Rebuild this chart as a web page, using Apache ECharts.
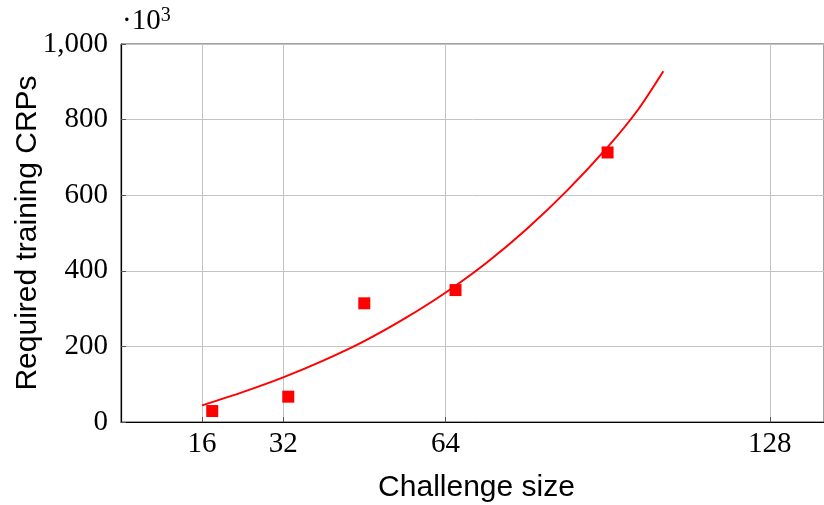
<!DOCTYPE html>
<html>
<head>
<meta charset="utf-8">
<script src="https://cdn.jsdelivr.net/npm/echarts@6/dist/echarts.min.js"></script>
<style>
  html, body { margin: 0; padding: 0; background: #fff; }
  #chart { width: 824px; height: 505px; }
</style>
</head>
<body>
<div id="chart"></div>
<script>
// Measured training-set sizes (in thousands of CRPs) per challenge size
const challengeSizes = [18, 33, 48, 66, 96];
const requiredCRPs = [29, 67, 314, 349, 713];

// Fitted trend curve (thousands of CRPs)
const fitX = [16, 24, 32, 40, 48, 56, 64, 72, 80, 88, 96, 102, 107];
const fitY = [44, 79, 118, 163, 214, 274, 342, 420, 510, 612, 727, 826, 928];

// Axis ticks
const xTicks = [16, 32, 64, 128];
const yMin = 0, yMax = 1000, yStep = 200;

const serif = '"Liberation Serif", "DejaVu Serif", serif';
const sans = '"Liberation Sans", Arial, sans-serif';

const chart = echarts.init(document.getElementById('chart'), null, { renderer: 'canvas' });

chart.setOption({
  animation: false,
  backgroundColor: '#fff',
  grid: {
    left: 121, right: 0, top: 44, bottom: 83,
    outerBoundsMode: 'none',
    containLabel: false,
    show: true, borderColor: '#444', borderWidth: 1
  },
  xAxis: {
    type: 'value',
    min: 0, max: 138.7,
    name: 'Challenge size',
    nameLocation: 'middle',
    nameGap: 51,
    nameMoveOverlap: false,
    nameTextStyle: { fontFamily: sans, fontSize: 30, color: '#000', padding: [0, 0, 0, 8] },
    axisLine: { show: true, lineStyle: { color: '#000', width: 1.2 } },
    axisTick: { show: true, inside: true, length: 5, customValues: xTicks, lineStyle: { color: '#555' } },
    axisLabel: {
      customValues: xTicks, margin: 8,
      fontFamily: serif, fontSize: 29, color: '#000'
    },
    splitLine: { show: true, lineStyle: { color: '#c4c4c4', width: 1 } }
  },
  yAxis: {
    type: 'value',
    min: yMin, max: yMax, interval: yStep,
    name: 'Required training CRPs',
    nameLocation: 'middle',
    nameGap: 78,
    nameMoveOverlap: false,
    nameTextStyle: { fontFamily: sans, fontSize: 30, color: '#000' },
    axisLine: { show: true, lineStyle: { color: '#000', width: 1.2 } },
    axisTick: { show: true, inside: true, length: 5, lineStyle: { color: '#555' } },
    axisLabel: {
      margin: 13, fontFamily: serif, fontSize: 29, color: '#000',
      formatter: v => v >= 1000 ? (v / 1000) + ',' + String(v % 1000).padStart(3, '0') : String(v)
    },
    splitLine: { show: true, lineStyle: { color: '#c4c4c4', width: 1 } }
  },
  graphic: [{
    type: 'text',
    left: 122, top: 6,
    style: {
      text: '{d|·10}{s|3}',
      rich: {
        d: { fontFamily: serif, fontSize: 29, fill: '#000', verticalAlign: 'bottom' },
        s: { fontFamily: serif, fontSize: 20, fill: '#000', verticalAlign: 'top', padding: [0, 0, 10, 0] }
      }
    }
  }],
  series: [
    {
      type: 'line',
      data: fitX.map((x, i) => [x, fitY[i]]),
      smooth: 0.25,
      showSymbol: false,
      lineStyle: { color: '#ff0000', width: 2 },
      z: 2
    },
    {
      type: 'scatter',
      data: challengeSizes.map((x, i) => [x, requiredCRPs[i]]),
      symbol: 'rect',
      symbolSize: 12,
      itemStyle: { color: '#ff0000', opacity: 1 },
      z: 3
    }
  ]
});
</script>
</body>
</html>
